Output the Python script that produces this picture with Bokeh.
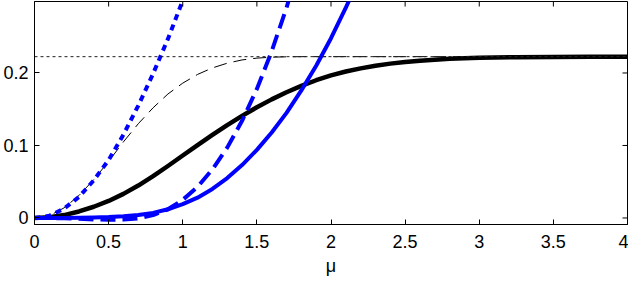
import math
from bokeh.plotting import figure
from bokeh.models import Range1d, FixedTicker, Span
from bokeh.embed import file_html
from bokeh.resources import INLINE

# ---- data ----
x_ticks = [0, 0.5, 1, 1.5, 2, 2.5, 3, 3.5, 4]
x_tick_labels = ["0", "0.5", "1", "1.5", "2", "2.5", "3", "3.5", "4"]
y_ticks = [0, 0.1, 0.2]
y_tick_labels = ["0", "0.1", "0.2"]

asymptote = 0.2225

mu_black = [0, 0.1, 0.2, 0.3, 0.4, 0.5, 0.6, 0.7, 0.8, 0.9, 1.0, 1.1, 1.2, 1.3, 1.4,
            1.5, 1.6, 1.7, 1.8, 1.9, 2.0, 2.1, 2.2, 2.3, 2.4, 2.5, 2.6, 2.7, 2.8, 2.9,
            3.0, 3.25, 3.5, 3.75, 4.0]
black_solid = [0, 0.001, 0.004, 0.009, 0.0155, 0.0235, 0.0332, 0.0447, 0.0577, 0.0717,
               0.0862, 0.1005, 0.1145, 0.128, 0.1408, 0.1527, 0.1636, 0.1735, 0.1823,
               0.1900, 0.1966, 0.2020, 0.2064, 0.2100, 0.2129, 0.2152, 0.2170, 0.2184,
               0.2195, 0.2203, 0.2209, 0.2218, 0.2222, 0.2224, 0.2225]

mu_bdash = [0, 0.1, 0.2, 0.3, 0.4, 0.5, 0.6, 0.7, 0.8, 0.9, 1.0, 1.1, 1.2, 1.3, 1.4,
            1.5, 1.6, 1.7, 1.8, 2.0, 2.5, 3.0, 4.0]
black_dashed = [0, 0.003, 0.014, 0.031, 0.053, 0.078, 0.105, 0.130, 0.152, 0.171, 0.186,
                0.198, 0.207, 0.2135, 0.218, 0.2205, 0.2218, 0.2223, 0.2225, 0.2225,
                0.2225, 0.2225, 0.2225]

mu_dot = [0, 0.1, 0.2, 0.3, 0.4, 0.5, 0.6, 0.7, 0.8, 0.9, 1.0]
blue_dotted = [0, 0.003, 0.013, 0.029, 0.052, 0.080, 0.115, 0.155, 0.199, 0.247, 0.300]

mu_bd = [0, 0.1, 0.2, 0.3, 0.4, 0.5, 0.6, 0.7, 0.8, 0.9, 1.0, 1.1, 1.2, 1.3, 1.4, 1.5,
         1.6, 1.7, 1.8]
blue_dashed = [0, 0, -0.0005, -0.0012, -0.002, -0.0025, -0.0022, -0.0005, 0.004, 0.012,
               0.025, 0.043, 0.067, 0.097, 0.134, 0.178, 0.230, 0.290, 0.360]

mu_bs = [0, 0.1, 0.2, 0.3, 0.4, 0.5, 0.6, 0.7, 0.8, 0.9, 1.0, 1.1, 1.2, 1.3, 1.4, 1.5,
         1.6, 1.7, 1.8, 1.9, 2.0, 2.1, 2.2]
blue_solid = [0, 0, 0, 0.0003, 0.0007, 0.0013, 0.0025, 0.0042, 0.007, 0.012, 0.019,
              0.028, 0.040, 0.055, 0.073, 0.094, 0.118, 0.145, 0.176, 0.210, 0.248,
              0.290, 0.336]

FONT = "Liberation Sans"
BLUE = "#0000ff"
X0, X1 = 0, 4
Y0, Y1 = -0.009, 0.2986

p = figure(frame_width=593, frame_height=223, output_backend="svg", toolbar_location=None,
           x_range=Range1d(X0, X1), y_range=Range1d(Y0, Y1),
           min_border_left=31, min_border_right=1, min_border_top=1, min_border_bottom=58,
           background_fill_color="white", border_fill_color="white")
p.grid.visible = False
p.outline_line_color = "black"
p.outline_line_width = 1
p.outline_line_alpha = 1

# horizontal asymptote
p.add_layout(Span(location=asymptote, dimension="width", line_color="#222222",
                  line_width=1, line_dash="3 3"))

p.line(mu_bdash, black_dashed, line_color="black", line_width=1, line_dash="13 7")
p.line(mu_black, black_solid, line_color="black", line_width=4.5, line_join="round")
p.line(mu_bs, blue_solid, line_color=BLUE, line_width=4, line_join="round")
p.line(mu_bd, blue_dashed, line_color=BLUE, line_width=4, line_dash="15 7")
p.line(mu_dot, blue_dotted, line_color=BLUE, line_width=4, line_dash="6 5")

# inward ticks on the top and right edges of the box
p.ray(x=x_ticks, y=[Y1] * len(x_ticks), length=5, length_units="screen",
      angle=-math.pi / 2, line_color="black", line_width=1)
p.ray(x=[X1] * len(y_ticks), y=y_ticks, length=5, length_units="screen",
      angle=math.pi, line_color="black", line_width=1)

xa = p.xaxis[0]
xa.ticker = FixedTicker(ticks=x_ticks)
xa.major_label_overrides = {t: l for t, l in zip(x_ticks, x_tick_labels)}
ya = p.yaxis[0]
ya.ticker = FixedTicker(ticks=y_ticks)
ya.major_label_overrides = {t: l for t, l in zip(y_ticks, y_tick_labels)}
for ax in (xa, ya):
    ax.minor_tick_line_color = None
    ax.major_tick_in = 5
    ax.major_tick_out = 0
    ax.major_tick_line_color = "black"
    ax.axis_line_color = "black"
    ax.major_label_text_font = FONT
    ax.major_label_text_font_size = "18px"
    ax.major_label_text_color = "black"

xa.major_label_standoff = 10
xa.axis_label = "μ"
xa.axis_label_text_font = FONT
xa.axis_label_text_font_size = "18px"
xa.axis_label_text_font_style = "normal"
xa.axis_label_text_color = "black"
xa.axis_label_standoff = 5
ya.major_label_standoff = 6

open("out.html", "w").write(file_html(p, INLINE))
